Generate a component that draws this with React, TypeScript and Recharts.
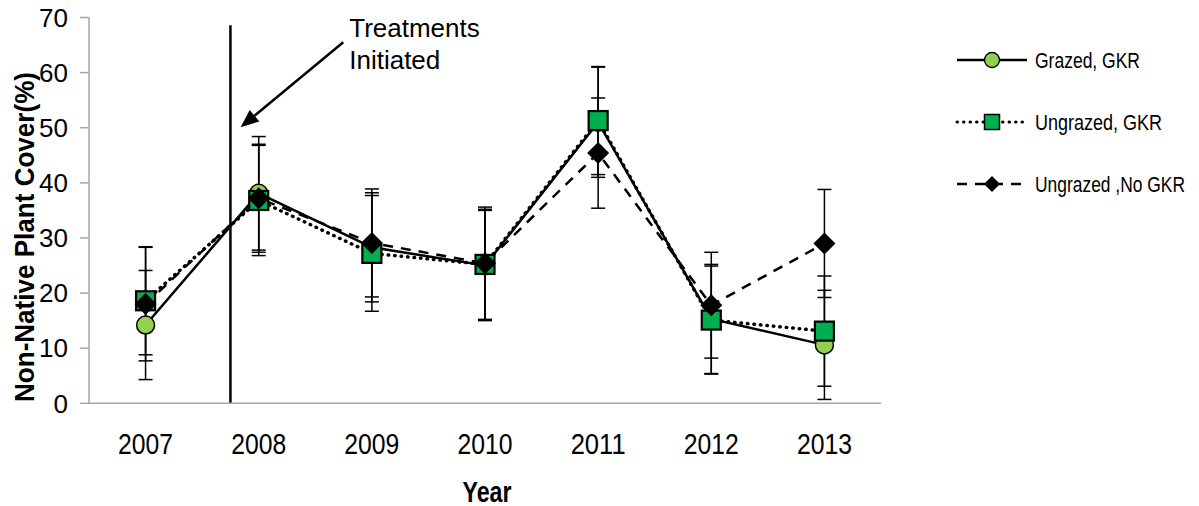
import React from 'react'
import { LineChart, Line, XAxis, YAxis, ErrorBar, ReferenceLine, Legend, Label } from 'recharts'

const years = [2007, 2008, 2009, 2010, 2011, 2012, 2013]
const grazed = [14.2, 38.1, 28.3, 25.0, 51.0, 15.3, 10.6]
const grazedErr = [9.9, 10.3, 9.9, 10.0, 10.0, 9.9, 9.9]
const ungrazedGkr = [18.6, 36.8, 27.2, 25.2, 51.3, 15.1, 13.1]
const ungrazedGkrErr = [9.8, 10.0, 10.5, 10.0, 9.8, 9.8, 10.0]
const ungrazedNoGkr = [18.0, 37.2, 29.1, 25.4, 45.4, 17.8, 29.0]
const ungrazedNoGkrErr = [10.3, 9.8, 9.8, 10.2, 10.0, 9.6, 9.8]

const yTicks = [0, 10, 20, 30, 40, 50, 60, 70]
const bandTicks = [2006.5, 2007.5, 2008.5, 2009.5, 2010.5, 2011.5, 2012.5, 2013.5]
const treatmentYear = 2007.75

const data = years.map((year, i) => ({
  year,
  grazed: grazed[i],
  grazedErr: grazedErr[i],
  ungrazedGkr: ungrazedGkr[i],
  ungrazedGkrErr: ungrazedGkrErr[i],
  ungrazedNoGkr: ungrazedNoGkr[i],
  ungrazedNoGkrErr: ungrazedNoGkrErr[i],
}))

const SANS = "'Liberation Sans', Arial, sans-serif"
const AXIS_GREY = '#A6A6A6'
const LIGHT_GREEN = '#92D050'
const GREEN = '#00B050'

function CircleDot(p: any) {
  if (p.cx == null || p.cy == null) return <g key={p.index} />
  return <circle key={p.index} cx={p.cx} cy={p.cy} r={9} fill={LIGHT_GREEN} stroke="#000" strokeWidth={1.5} />
}

function SquareDot(p: any) {
  if (p.cx == null || p.cy == null) return <g key={p.index} />
  return <rect key={p.index} x={p.cx - 9.5} y={p.cy - 9.5} width={19} height={19} fill={GREEN} stroke="#000" strokeWidth={2.2} />
}

function DiamondDot(p: any) {
  if (p.cx == null || p.cy == null) return <g key={p.index} />
  const h = 11
  return (
    <polygon
      key={p.index}
      points={`${p.cx},${p.cy - h} ${p.cx + h},${p.cy} ${p.cx},${p.cy + h} ${p.cx - h},${p.cy}`}
      fill="#000"
    />
  )
}

// year labels are drawn in a narrow face, squeezed like the original
function YearTick(p: any) {
  return (
    <text
      x={p.x}
      y={p.y}
      dy="0.71em"
      textAnchor="middle"
      fontFamily={SANS}
      fontSize={29}
      fill="#000"
      textLength={55}
      lengthAdjust="spacingAndGlyphs"
    >
      {p.payload.value}
    </text>
  )
}

function ArrowShape(p: any) {
  const { x1, y1, x2, y2 } = p
  if (x1 == null) return <g />
  const dx = x2 - x1
  const dy = y2 - y1
  const len = Math.sqrt(dx * dx + dy * dy)
  const ux = dx / len
  const uy = dy / len
  const headLen = 18
  const headHalf = 7.5
  const bx = x2 - ux * headLen
  const by = y2 - uy * headLen
  return (
    <g>
      <line x1={x1} y1={y1} x2={bx} y2={by} stroke="#000" strokeWidth={2.5} />
      <polygon
        points={`${x2},${y2} ${bx - uy * headHalf},${by + ux * headHalf} ${bx + uy * headHalf},${by - ux * headHalf}`}
        fill="#000"
      />
      <text x={x1 + 6} y={y1 - 5} fontFamily={SANS} fontSize={26} fill="#000">Treatments</text>
      <text x={x1 + 6} y={y1 + 27} fontFamily={SANS} fontSize={26} fill="#000">Initiated</text>
    </g>
  )
}

const legendItems = [
  { label: 'Grazed, GKR', dash: undefined, kind: 'circle', textWidth: 105 },
  { label: 'Ungrazed, GKR', dash: '0.5 6', kind: 'square', textWidth: 127 },
  { label: 'Ungrazed ,No GKR', dash: '10 8', kind: 'diamond', textWidth: 150 },
]

function LegendBox() {
  return (
    <svg width={245} height={190} style={{ display: 'block' }}>
      {legendItems.map((item, i) => {
        const cy = 20 + i * 62
        return (
          <g key={item.label}>
            <line
              x1={7}
              y1={cy}
              x2={77}
              y2={cy}
              stroke="#000"
              strokeWidth={item.kind === 'square' ? 3 : 2.5}
              strokeDasharray={item.dash}
              strokeLinecap={item.kind === 'square' ? 'round' : 'butt'}
            />
            {item.kind === 'circle' && <circle cx={42} cy={cy} r={7.5} fill={LIGHT_GREEN} stroke="#000" strokeWidth={1.3} />}
            {item.kind === 'square' && <rect x={34.5} y={cy - 7.5} width={15} height={15} fill={GREEN} stroke="#000" strokeWidth={1.5} />}
            {item.kind === 'diamond' && <polygon points={`42,${cy - 8} 50,${cy} 42,${cy + 8} 34,${cy}`} fill="#000" />}
            <text
              x={85}
              y={cy + 7.5}
              fontFamily={SANS}
              fontSize={22}
              fill="#000"
              textLength={item.textWidth}
              lengthAdjust="spacingAndGlyphs"
            >
              {item.label}
            </text>
          </g>
        )
      })}
    </svg>
  )
}

export default function App() {
  return (
    <div style={{ position: 'absolute', left: 0, top: 0, width: 1199, height: 506, background: '#fff' }}>
      <LineChart width={1199} height={506} data={data} margin={{ top: 17.5, right: 318, bottom: 0, left: 0 }}>
        <XAxis
          xAxisId="bands"
          type="number"
          domain={[2006.5, 2013.5]}
          ticks={bandTicks}
          allowDataOverflow
          tick={false}
          tickSize={9}
          tickLine={{ stroke: AXIS_GREY, strokeWidth: 1.5 }}
          axisLine={{ stroke: AXIS_GREY, strokeWidth: 1.5 }}
          height={1}
        />
        <XAxis
          xAxisId="labels"
          type="number"
          dataKey="year"
          domain={[2006.5, 2013.5]}
          ticks={years}
          allowDataOverflow
          interval={0}
          tickLine={false}
          axisLine={false}
          tickSize={0}
          tickMargin={29}
          height={101.7}
          tick={YearTick}
        >
          <Label
            content={() => (
              <text
                x={487}
                y={501.5}
                textAnchor="middle"
                fontFamily={SANS}
                fontSize={29}
                fontWeight="bold"
                fill="#000"
                textLength={49}
                lengthAdjust="spacingAndGlyphs"
              >
                Year
              </text>
            )}
          />
        </XAxis>
        <YAxis
          type="number"
          domain={[0, 70]}
          ticks={yTicks}
          interval={0}
          width={89}
          tickSize={9}
          tickMargin={12}
          axisLine={{ stroke: AXIS_GREY, strokeWidth: 1.5 }}
          tickLine={{ stroke: AXIS_GREY, strokeWidth: 1.5 }}
          tick={{ fontFamily: SANS, fontSize: 26, fill: '#000' }}
        >
          <Label
            content={() => (
              <text
                x={34}
                y={237}
                transform="rotate(-90, 34, 237)"
                textAnchor="middle"
                fontFamily={SANS}
                fontSize={27}
                fontWeight="bold"
                fill="#000"
                textLength={330}
                lengthAdjust="spacingAndGlyphs"
              >
                Non-Native Plant Cover(%)
              </text>
            )}
          />
        </YAxis>
        <ReferenceLine
          xAxisId="labels"
          segment={[
            { x: treatmentYear, y: 0 },
            { x: treatmentYear, y: 68.6 },
          ]}
          stroke="#000"
          strokeWidth={2.5}
        />
        <ReferenceLine
          xAxisId="labels"
          segment={[
            { x: 2008.747, y: 65.5 },
            { x: 2007.84, y: 50.1 },
          ]}
          shape={ArrowShape}
        />
        <Line
          xAxisId="labels"
          dataKey="grazed"
          stroke="#000"
          strokeWidth={2.5}
          dot={CircleDot}
          activeDot={false}
          isAnimationActive={false}
        >
          <ErrorBar dataKey="grazedErr" width={7} stroke="#000" strokeWidth={1.5} />
        </Line>
        <Line
          xAxisId="labels"
          dataKey="ungrazedGkr"
          stroke="#000"
          strokeWidth={3.5}
          strokeDasharray="0.5 6"
          strokeLinecap="round"
          dot={SquareDot}
          activeDot={false}
          isAnimationActive={false}
        >
          <ErrorBar dataKey="ungrazedGkrErr" width={7} stroke="#000" strokeWidth={1.5} />
        </Line>
        <Line
          xAxisId="labels"
          dataKey="ungrazedNoGkr"
          stroke="#000"
          strokeWidth={2.5}
          strokeDasharray="10 8"
          dot={DiamondDot}
          activeDot={false}
          isAnimationActive={false}
        >
          <ErrorBar dataKey="ungrazedNoGkrErr" width={7} stroke="#000" strokeWidth={1.5} />
        </Line>
        <Legend
          layout="vertical"
          align="center"
          verticalAlign="middle"
          wrapperStyle={{ left: 950, top: 40, width: 245, height: 190 }}
          content={() => <LegendBox />}
        />
      </LineChart>
    </div>
  )
}
